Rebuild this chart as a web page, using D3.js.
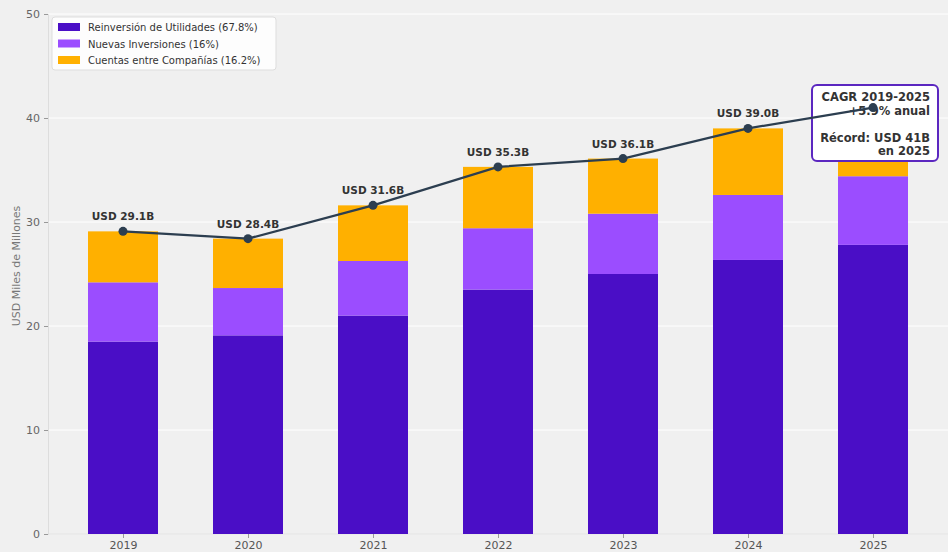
<!DOCTYPE html>
<html><head><meta charset="utf-8">
<script src="https://cdn.jsdelivr.net/npm/d3@7"></script>
<style>body{margin:0;background:#f0f0f0;}svg{display:block;font-family:"DejaVu Sans",sans-serif;}</style>
</head><body><svg id="c" width="948" height="552"></svg>
<script>
const years = ["2019","2020","2021","2022","2023","2024","2025"];
const reinversion = [18.5, 19.1, 21.0, 23.5, 25.0, 26.35, 27.8];
const nuevas = [5.7, 4.55, 5.25, 5.9, 5.8, 6.25, 6.6];
const cuentas = [4.9, 4.75, 5.35, 5.9, 5.3, 6.4, 6.6];
const totals = [29.1, 28.4, 31.6, 35.3, 36.1, 39.0, 41.0];
const seriesNames = ["Reinversión de Utilidades (67.8%)", "Nuevas Inversiones (16%)", "Cuentas entre Compañías (16.2%)"];
const colors = ["#4a0ec6", "#9b4dff", "#ffb000"];
const yTicks = [0,10,20,30,40,50];
const yLabel = "USD Miles de Millones";
const noteLines = ["CAGR 2019-2025", "+5.9% anual", "", "Récord: USD 41B", "en 2025"];

const svg = d3.select("#c");
const y = d3.scaleLinear().domain([0,50]).range([534,14]);
const x = d3.scalePoint().domain(years).range([123,873]);
const bw = 70;

// grid
svg.append("g").selectAll("line").data(yTicks).join("line")
  .attr("x1",48).attr("x2",948).attr("y1",d=>y(d)).attr("y2",d=>y(d))
  .attr("stroke","#ffffff").attr("stroke-width",1);

// axes
const ya = svg.append("g").attr("transform","translate(48,0)")
  .call(d3.axisLeft(y).tickValues(yTicks).tickSize(4).tickPadding(4));
ya.select(".domain").attr("stroke","#dddddd");
ya.selectAll(".tick line").attr("stroke","#999");
ya.selectAll("text").attr("fill","#666").attr("font-size",11).attr("font-family","DejaVu Sans");
const xa = svg.append("g").attr("transform","translate(0,534)")
  .call(d3.axisBottom(x).tickSize(4).tickPadding(3));
xa.select(".domain").attr("stroke","#dddddd").attr("d","M48,0H948");
xa.selectAll(".tick line").attr("stroke","#999");
xa.selectAll("text").attr("fill","#555").attr("font-size",11).attr("font-family","DejaVu Sans");

svg.append("text").attr("transform","translate(20,266) rotate(-90)")
  .attr("text-anchor","middle").attr("font-size",11).attr("fill","#777").text(yLabel);

// stacked bars
const rows = years.map((yr,i)=>({year:yr, r:reinversion[i], n:nuevas[i], c:cuentas[i]}));
const stack = d3.stack().keys(["r","n","c"])(rows);
svg.append("g").selectAll("g").data(stack).join("g").attr("fill",(d,i)=>colors[i])
  .selectAll("rect").data(d=>d).join("rect")
  .attr("x",d=>x(d.data.year)-bw/2).attr("width",bw)
  .attr("y",d=>y(d[1])).attr("height",d=>y(d[0])-y(d[1]));

// annotation box
const bx = 812, by = 85, bwid = 126, bh = 76;
svg.append("rect").attr("x",bx).attr("y",by).attr("width",bwid).attr("height",bh)
  .attr("rx",5).attr("fill","#ffffff").attr("stroke","#5b27c0").attr("stroke-width",2);
svg.append("g").selectAll("text").data(noteLines).join("text")
  .attr("x",930).attr("y",(d,i)=>101+i*13.5).attr("text-anchor","end")
  .attr("font-size",11.5).attr("font-weight","bold").attr("fill","#333").text(d=>d);

// line
const line = d3.line().x((d,i)=>x(years[i])).y(d=>y(d));
svg.append("path").datum(totals).attr("d",line).attr("fill","none")
  .attr("stroke","#2c3e50").attr("stroke-width",2.2);
svg.append("g").selectAll("circle").data(totals).join("circle")
  .attr("cx",(d,i)=>x(years[i])).attr("cy",d=>y(d)).attr("r",4.5).attr("fill","#2c3e50");
svg.append("g").selectAll("text").data(totals.slice(0,6)).join("text")
  .attr("x",(d,i)=>x(years[i])).attr("y",(d)=>y(d)-11).attr("text-anchor","middle")
  .attr("font-size",10.5).attr("font-weight","bold").attr("fill","#333")
  .text(d=>"USD "+d.toFixed(1)+"B");

// legend
const lg = svg.append("g");
lg.append("rect").attr("x",52).attr("y",17).attr("width",224).attr("height",53).attr("rx",3)
  .attr("fill","#ffffff").attr("fill-opacity",0.85).attr("stroke","#dddddd");
seriesNames.forEach((s,i)=>{
  lg.append("rect").attr("x",58).attr("y",23+i*16.5).attr("width",22).attr("height",8).attr("fill",colors[i]);
  lg.append("text").attr("x",88).attr("y",31+i*16.5).attr("font-size",10).attr("fill","#333").text(s);
});
</script></body></html>
